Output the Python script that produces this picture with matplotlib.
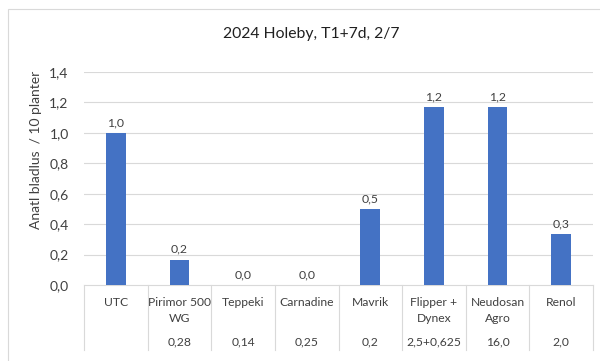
import matplotlib
matplotlib.use("Agg")
import matplotlib.pyplot as plt
from matplotlib.lines import Line2D
from matplotlib.patches import Rectangle

plt.rcParams['font.family'] = ['Lato', 'DejaVu Sans']

categories = ["UTC", "Pirimor 500\nWG", "Teppeki", "Carnadine", "Mavrik",
              "Flipper +\nDynex", "Neudosan\nAgro", "Renol"]
doses = ["", "0,28", "0,14", "0,25", "0,2", "2,5+0,625", "16,0", "2,0"]
values = [1.0, 0.167, 0.0, 0.0, 0.5, 1.167, 1.167, 0.333]
yticks = [0.0, 0.2, 0.4, 0.6, 0.8, 1.0, 1.2, 1.4]
title = "2024 Holeby, T1+7d, 2/7"
ylabel = "Anatl bladlus  / 10 planter"

W, H = 600, 361
fig = plt.figure(figsize=(6.0, 3.61), dpi=100)
fig.patch.set_facecolor("white")

# outer chart border
fig.add_artist(Rectangle((8 / W, -0.01), 1.2, (H - 9) / H + 0.01, transform=fig.transFigure,
                         fill=False, edgecolor="#D9D9D9", linewidth=0.8))

left, right, top, bottom = 84, 593, 72, 285
ax = fig.add_axes([left / W, (H - bottom) / H, (right - left) / W, (bottom - top) / H])

x = list(range(len(categories)))
ax.bar(x, values, width=0.31, color="#4472C4", zorder=3)
ax.set_xlim(-0.5, len(categories) - 0.5)
ax.set_ylim(0, 1.4)
ax.set_yticks(yticks)
ax.set_yticklabels([f"{v:.1f}".replace(".", ",") for v in yticks], fontsize=10, color="#404040")
ax.tick_params(axis="y", length=0, pad=11)
ax.set_xticks([])
for s in ax.spines.values():
    s.set_visible(False)
for v in yticks[1:]:
    ax.axhline(v, color="#D9D9D9", linewidth=0.8, zorder=1)

for xi, v in zip(x, values):
    ax.annotate(f"{v:.1f}".replace(".", ","), (xi, v), xytext=(0, 3.5), textcoords="offset points",
                ha="center", va="bottom", fontsize=8.8, color="#404040")

# table below axis
tr = ax.get_xaxis_transform()
ph = bottom - top
ax.add_line(Line2D([-0.5, len(categories) - 0.5], [0, 0], transform=tr, color="#D9D9D9",
                   linewidth=0.8, clip_on=False))
table_h = (350 - 285) / ph
for b in range(len(categories) + 1):
    xb = b - 0.5
    ax.add_line(Line2D([xb, xb], [0, -table_h], transform=tr, color="#D9D9D9",
                       linewidth=0.8, clip_on=False))
for xi, c, d in zip(x, categories, doses):
    ax.text(xi, -(297 - 285) / ph, c, transform=tr, ha="center", va="top",
            fontsize=8.7, color="#404040", linespacing=1.5)
    ax.text(xi, -(342 - 285) / ph, d, transform=tr, ha="center", va="center",
            fontsize=8.7, color="#404040")

fig.text(311 / W, 1 - 34 / H, title, ha="center", va="center", fontsize=11.3, color="#202020")
fig.text(36 / W, 1 - 150 / H, ylabel, ha="center", va="center", rotation=90,
         fontsize=10, color="#404040")

fig.savefig("out.png", dpi=100)
